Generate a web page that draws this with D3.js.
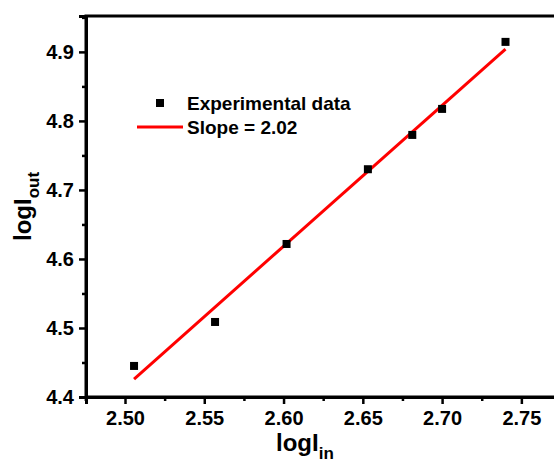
<!DOCTYPE html>
<html>
<head>
<meta charset="utf-8">
<script src="https://cdn.jsdelivr.net/npm/d3@7"></script>
<style>
  body { margin: 0; background: #fff; }
  svg text { font-family: "Liberation Sans", Arial, sans-serif; font-weight: bold; fill: #000; }
  svg .tick text { font-size: 20px; }
</style>
</head>
<body>
<div id="chart"></div>
<script>
// data
const logIn = [2.5057, 2.5568, 2.6019, 2.6532, 2.6812, 2.7000, 2.7400];
const logOut = [4.445, 4.5087, 4.6217, 4.730, 4.7797, 4.8174, 4.9145];
const fitX = [2.5057, 2.7400];
const fitY = [4.426, 4.904];
const xTicks = [2.50, 2.55, 2.60, 2.65, 2.70, 2.75];
const yTicks = [4.4, 4.5, 4.6, 4.7, 4.8, 4.9];
const legendLabels = ['Experimental data', 'Slope = 2.02'];

const [w, h] = [554, 465];
const m = { left: 86, top: 16, right: 561, bottom: 397 };

const x = d3.scaleLinear().domain([2.4754, 2.775]).range([m.left, m.right]);
const y = d3.scaleLinear().domain([4.4, 4.952]).range([m.bottom, m.top]);

const svg = d3.select('#chart').append('svg').attr('width', w).attr('height', h);

// frame
svg.append('rect')
  .attr('x', m.left).attr('y', m.top)
  .attr('width', m.right - m.left).attr('height', m.bottom - m.top)
  .attr('fill', 'none').attr('stroke', '#000').attr('stroke-width', 3);

const minorX = d3.range(2.475, 2.78, 0.025).filter(v => !xTicks.some(t => Math.abs(t - v) < 1e-6));
const minorY = d3.range(4.45, 4.96, 0.1);

svg.append('g').attr('transform', `translate(0,${m.bottom})`)
  .call(d3.axisBottom(x).tickValues(xTicks).tickFormat(d3.format('.2f')).tickSize(7).tickPadding(7));
svg.append('g').attr('transform', `translate(0,${m.bottom})`)
  .call(d3.axisBottom(x).tickValues(minorX).tickFormat('').tickSize(4))
  .call(g => g.select('.domain').remove());

svg.append('g').attr('transform', `translate(${m.left},0)`)
  .call(d3.axisLeft(y).tickValues(yTicks).tickFormat(d3.format('.1f')).tickSize(7).tickPadding(5));
svg.append('g').attr('transform', `translate(${m.left},0)`)
  .call(d3.axisLeft(y).tickValues(minorY).tickFormat('').tickSize(4))
  .call(g => g.select('.domain').remove());

svg.selectAll('.domain').attr('stroke-width', 3);
svg.selectAll('.tick line').attr('stroke-width', 2.5);

// axis titles
const xt = svg.append('text').attr('x', 276).attr('y', 451).style('font-size', '24px');
xt.append('tspan').text('logI');
xt.append('tspan').attr('dy', 8).style('font-size', '17px').text('in');

const yt = svg.append('text').attr('transform', 'translate(31,241) rotate(-90)').style('font-size', '24px');
yt.append('tspan').text('logI');
yt.append('tspan').attr('dy', 8).style('font-size', '17px').text('out');

// fitted line
svg.append('line')
  .attr('x1', x(fitX[0])).attr('y1', y(fitY[0]))
  .attr('x2', x(fitX[1])).attr('y2', y(fitY[1]))
  .attr('stroke', '#f00').attr('stroke-width', 3);

// points
svg.append('g').selectAll('rect')
  .data(logIn)
  .enter()
  .append('rect')
  .attr('x', (d, i) => x(d) - 4)
  .attr('y', (d, i) => y(logOut[i]) - 4)
  .attr('width', 8).attr('height', 8)
  .attr('fill', '#000');

// legend
const lg = svg.append('g');
lg.append('rect').attr('x', 156).attr('y', 99).attr('width', 8).attr('height', 8).attr('fill', '#000');
lg.append('line').attr('x1', 137).attr('x2', 183).attr('y1', 127).attr('y2', 127)
  .attr('stroke', '#f00').attr('stroke-width', 3);
lg.selectAll('text').data(legendLabels).enter().append('text')
  .attr('x', 187).attr('y', (d, i) => 110 + i * 24)
  .style('font-size', '19px')
  .text(d => d);
</script>
</body>
</html>
